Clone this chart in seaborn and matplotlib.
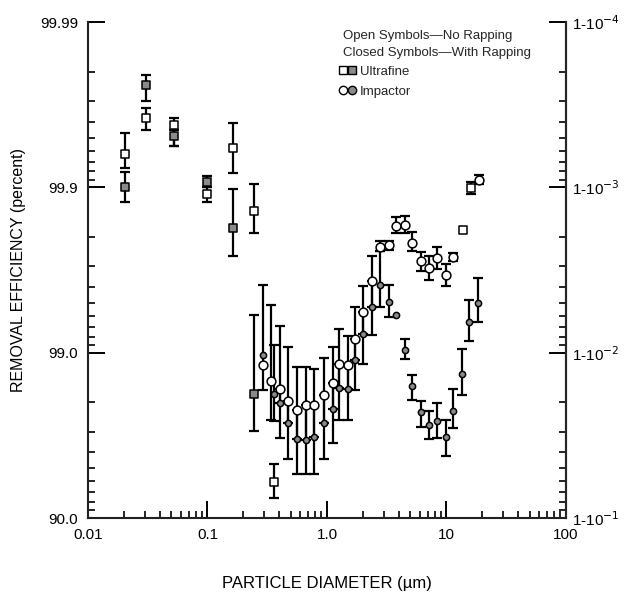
import numpy as np
import matplotlib
matplotlib.use("Agg")
import matplotlib.pyplot as plt
import seaborn as sns
from matplotlib.lines import Line2D
from matplotlib.legend_handler import HandlerTuple
from matplotlib.ticker import FixedLocator, NullFormatter, LogLocator

# ---------------- data (removal efficiency, percent) ----------------
# Ultrafine, open symbols (no rapping)
uf_open_d   = [0.0205, 0.0306, 0.052, 0.100, 0.164, 0.247, 0.36, 13.8, 16.1]
uf_open_eff = [99.937, 99.962, 99.958, 99.890, 99.942, 99.861, 93.92, 99.820, 99.899]
uf_open_top = [99.953, 99.967, 99.962, 99.900, 99.959, 99.904, 95.29, 99.820, 99.907]
uf_open_bot = [99.924, 99.955, 99.944, 99.877, 99.918, 99.812, 92.47, 99.820, 99.890]

# Ultrafine, closed symbols (with rapping)
uf_closed_d   = [0.0205, 0.0306, 0.052, 0.100, 0.164, 0.245]
uf_closed_eff = [99.900, 99.976, 99.951, 99.907, 99.825, 98.234]
uf_closed_top = [99.919, 99.979, 99.955, 99.915, 99.897, 99.406]
uf_closed_bot = [99.877, 99.970, 99.944, 99.900, 99.739, 97.015]

# Impactor, open symbols (no rapping)
im_open_d   = [0.290, 0.339, 0.405, 0.473, 0.565, 0.662, 0.774, 0.942, 1.116, 1.268,
               1.495, 1.730, 2.00, 2.36, 2.78, 3.28, 3.80, 4.48, 5.18, 6.11,
               7.20, 8.33, 9.82, 11.4, 18.7]
im_open_eff = [98.814, 98.511, 98.333, 98.050, 97.782, 97.935, 97.935, 98.209, 98.468, 98.831,
               98.814, 99.174, 99.430, 99.633, 99.772, 99.776, 99.829, 99.832, 99.782, 99.721,
               99.692, 99.731, 99.661, 99.735, 99.910]
im_open_top = [99.612, 99.482, 99.310, 99.079, 98.781, 98.781, 98.745, 98.926, 99.079, 99.281,
               99.208, 99.468, 99.606, 99.739, 99.788, 99.790, 99.849, 99.851, 99.815, 99.753,
               99.739, 99.769, 99.709, 99.749, 99.916]
im_open_bot = [98.310, 97.447, 97.995, 97.333, 96.650, 96.604, 96.749, 97.333, 97.812, 98.355,
               98.333, 98.895, 99.229, 99.468, 99.756, 99.760, 99.810, 99.812, 99.756, 99.679,
               99.637, 99.688, 99.606, 99.721, 99.904]

# Impactor, closed symbols (with rapping)
im_closed_d   = [0.290, 0.360, 0.405, 0.473, 0.565, 0.662, 0.774, 0.942, 1.116, 1.268,
                 1.495, 1.730, 2.00, 2.36, 2.78, 3.28, 3.80, 4.48, 5.18, 6.11,
                 7.20, 8.33, 9.82, 11.4, 13.5, 15.5, 18.4]
im_closed_eff = [98.971, 98.234, 97.995, 97.333, 96.650, 96.604, 96.749, 97.333, 97.812, 98.355,
                 98.333, 98.895, 99.229, 99.468, 99.612, 99.503, 99.406, 99.040, 98.400, 97.720,
                 97.258, 97.406, 96.749, 97.751, 98.652, 99.347, 99.496]
im_closed_top = [98.971, 99.104, 98.333, 98.050, 97.782, 97.935, 97.935, 98.209, 98.468, 98.831,
                 98.814, 99.174, 99.430, 99.633, 99.756, 99.612, 99.406, 99.174, 98.633, 98.050,
                 97.751, 97.995, 97.447, 98.333, 99.053, 99.522, 99.647]
im_closed_bot = [98.971, 97.406, 96.696, 95.615, 94.567, 94.567, 94.567, 95.615, 96.460, 97.447,
                 97.447, 98.310, 98.831, 99.218, 99.468, 99.389, 99.406, 98.911, 98.077, 97.175,
                 96.650, 96.696, 95.802, 97.136, 98.209, 99.151, 99.347]

x_ticks = [0.01, 0.1, 1, 10, 100]
x_ticklabels = ["0.01", "0.1", "1.0", "10", "100"]
y_ticks = [1e-1, 1e-2, 1e-3, 1e-4]
y_left_labels = ["90.0", "99.0", "99.9", "99.99"]
y_right_labels = ["1-10$^{-1}$", "1-10$^{-2}$", "1-10$^{-3}$", "1-10$^{-4}$"]

# ---------------- figure ----------------
sns.set_theme(style="ticks")
plt.rcParams["font.family"] = ["Liberation Sans", "DejaVu Sans"]

fig = plt.figure(figsize=(6.32, 5.95), dpi=100)
ax = fig.add_axes([0.1392, 0.1294, 0.7563, 0.8336])
ax.set_xscale("log")
ax.set_yscale("log")


def pen(e):
    return (100.0 - np.asarray(e, dtype=float)) / 100.0


def draw(d, eff, top, bot, marker, face, size):
    d = np.asarray(d, dtype=float)
    P, Pt, Pb = pen(eff), pen(top), pen(bot)
    m = (Pb - Pt) > 0
    ax.errorbar(d[m], P[m], yerr=[P[m] - Pt[m], Pb[m] - P[m]], fmt="none",
                ecolor="black", elinewidth=1.6, capsize=3.5, capthick=1.6, zorder=2)
    sns.scatterplot(x=d, y=P, marker=marker, s=size, color=face,
                    edgecolor="black", linewidth=1.1, ax=ax, zorder=3)


GREY = "#8a8a8a"
draw(im_closed_d, im_closed_eff, im_closed_top, im_closed_bot, "o", GREY, 20)
draw(im_open_d, im_open_eff, im_open_top, im_open_bot, "o", "white", 40)
draw(uf_closed_d, uf_closed_eff, uf_closed_top, uf_closed_bot, "s", GREY, 32)
draw(uf_open_d, uf_open_eff, uf_open_top, uf_open_bot, "s", "white", 38)

ax.set_xlim(0.01, 100)
ax.set_ylim(1e-1, 1e-4)

ax.xaxis.set_major_locator(FixedLocator(x_ticks))
ax.set_xticklabels(x_ticklabels)
ax.xaxis.set_minor_locator(LogLocator(base=10, subs=np.arange(2, 10)))
ax.xaxis.set_minor_formatter(NullFormatter())
ax.yaxis.set_major_locator(FixedLocator(y_ticks))
ax.set_yticklabels(y_left_labels)
ax.yaxis.set_minor_locator(LogLocator(base=10, subs=np.arange(2, 10)))
ax.yaxis.set_minor_formatter(NullFormatter())

ax.spines["top"].set_visible(False)
for s in ("left", "right", "bottom"):
    ax.spines[s].set_linewidth(1.5)
    ax.spines[s].set_color("black")

ax.tick_params(axis="both", which="major", direction="in", length=12, width=1.4,
               labelsize=11, colors="black", pad=7)
ax.tick_params(axis="both", which="minor", direction="in", length=5, width=1.2, colors="black")
ax.tick_params(axis="y", which="both", left=True, right=False)

ax2 = ax.twinx()
ax2.set_yscale("log")
ax2.set_ylim(1e-1, 1e-4)
ax2.yaxis.set_major_locator(FixedLocator(y_ticks))
ax2.set_yticklabels(y_right_labels)
ax2.yaxis.set_minor_locator(LogLocator(base=10, subs=np.arange(2, 10)))
ax2.yaxis.set_minor_formatter(NullFormatter())
ax2.spines["top"].set_visible(False)
ax2.spines["right"].set_linewidth(1.5)
ax2.tick_params(axis="y", which="major", direction="in", length=12, width=1.4,
                labelsize=11, colors="black", pad=4)
ax2.tick_params(axis="y", which="minor", direction="in", length=5, width=1.2, colors="black")

ax.set_xlabel("PARTICLE DIAMETER (µm)", fontsize=12, labelpad=25, color="black")
ax.set_ylabel("REMOVAL EFFICIENCY (percent)", fontsize=11.5, labelpad=10, color="black")

ax.text(0.533, 0.972, "Open Symbols\u2014No Rapping", transform=ax.transAxes,
        fontsize=9.5, va="center", ha="left")
ax.text(0.533, 0.9375, "Closed Symbols\u2014With Rapping", transform=ax.transAxes,
        fontsize=9.5, va="center", ha="left")

h_uf = (Line2D([], [], marker="s", ls="none", mfc="white", mec="black", ms=6, mew=1.0),
        Line2D([], [], marker="s", ls="none", mfc=GREY, mec="black", ms=6, mew=1.0))
h_im = (Line2D([], [], marker="o", ls="none", mfc="white", mec="black", ms=6, mew=1.0),
        Line2D([], [], marker="o", ls="none", mfc=GREY, mec="black", ms=6, mew=1.0))
ax.legend([h_uf, h_im], ["Ultrafine", "Impactor"],
          handler_map={tuple: HandlerTuple(ndivide=None, pad=0.05)},
          loc="upper left", bbox_to_anchor=(0.525, 0.912), frameon=False,
          fontsize=9.5, handlelength=1.3, handletextpad=0.3, labelspacing=0.6,
          borderpad=0, borderaxespad=0)

fig.savefig("out.png", dpi=100)
